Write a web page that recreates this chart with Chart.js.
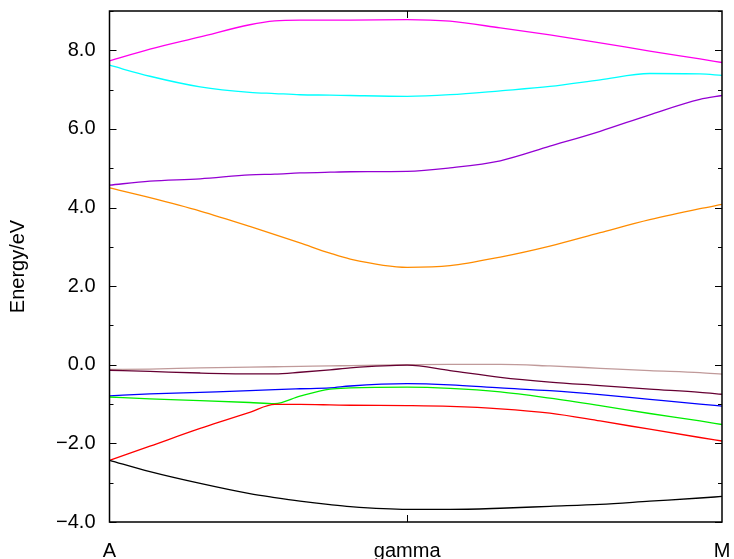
<!DOCTYPE html>
<html>
<head>
<meta charset="utf-8">
<script src="https://cdn.jsdelivr.net/npm/chart.js@4"></script>
<style>
  html, body { margin: 0; padding: 0; background: #fff; }
  #wrap { width: 734px; height: 559px; }
</style>
</head>
<body>
<div id="wrap"><canvas id="bandChart" width="734" height="559"></canvas></div>
<script>
// k-path positions (A -> gamma -> M), normalised 0..1
const kPath = [0, 0.066, 0.148, 0.229, 0.270, 0.311, 0.360, 0.393, 0.486, 0.556, 0.638, 0.719, 0.801, 0.882, 0.964, 1.0];
const xTickPos = [0, 0.486, 1];
const xTickLabels = ['A', 'gamma', 'M'];
const yTickValues = [-4, -2, 0, 2, 4, 6, 8];

// band energies (eV), one value per kPath point
const band1 = [-2.43, -2.72, -3.02, -3.28, -3.38, -3.47, -3.56, -3.61, -3.68, -3.68, -3.65, -3.60, -3.55, -3.47, -3.39, -3.35];
const band2 = [-2.43, -2.07, -1.62, -1.21, -1.01, -1.01, -1.02, -1.03, -1.04, -1.06, -1.12, -1.23, -1.43, -1.64, -1.85, -1.94];
const band3 = [-0.82, -0.87, -0.91, -0.96, -0.99, -0.80, -0.62, -0.59, -0.57, -0.60, -0.69, -0.85, -1.04, -1.24, -1.43, -1.52];
const band4 = [-0.79, -0.74, -0.70, -0.66, -0.63, -0.61, -0.59, -0.54, -0.48, -0.51, -0.59, -0.66, -0.76, -0.88, -1.00, -1.05];
const band5 = [-0.14, -0.17, -0.21, -0.23, -0.23, -0.19, -0.13, -0.08, -0.01, -0.15, -0.32, -0.44, -0.53, -0.62, -0.70, -0.75];
const band6 = [-0.12, -0.11, -0.08, -0.06, -0.05, -0.04, -0.03, -0.02, 0.00, 0.01, 0.01, -0.03, -0.09, -0.15, -0.20, -0.24];
const band7 = [4.50, 4.25, 3.91, 3.52, 3.31, 3.10, 2.84, 2.69, 2.48, 2.52, 2.74, 3.02, 3.36, 3.69, 3.97, 4.08];
const band8 = [4.57, 4.67, 4.73, 4.83, 4.85, 4.88, 4.90, 4.91, 4.92, 5.01, 5.19, 5.56, 5.94, 6.36, 6.75, 6.85];
const band9 = [7.62, 7.34, 7.07, 6.93, 6.90, 6.87, 6.86, 6.85, 6.83, 6.87, 6.97, 7.08, 7.25, 7.41, 7.40, 7.36];
const band10 = [7.73, 8.03, 8.34, 8.65, 8.75, 8.77, 8.77, 8.77, 8.78, 8.74, 8.57, 8.39, 8.19, 7.98, 7.78, 7.69];

const bands = [band1, band2, band3, band4, band5, band6, band7, band8, band9, band10];
const bandColors = ['#000000', '#ff0000', '#00ee00', '#0000ff', '#660033', '#c09a9a', '#ff8c00', '#9400d3', '#00ffff', '#ff00ee'];

const FONT = 'Liberation Sans, Arial, sans-serif';

// frame + inside ticks (like gnuplot)
const frameTicks = {
  id: 'frameTicks',
  afterDraw(chart) {
    const c = chart.ctx, a = chart.chartArea;
    const xs = chart.scales.x, ys = chart.scales.y;
    c.save();
    c.strokeStyle = '#000';
    c.lineWidth = 1.5;
    c.strokeRect(a.left, a.top, a.right - a.left, a.bottom - a.top);
    c.lineWidth = 1;
    c.beginPath();
    for (let v = -4; v <= 9; v++) {
      const y = Math.round(ys.getPixelForValue(v)) + 0.5;
      const len = v % 2 === 0 ? 7 : 4;
      c.moveTo(a.left, y); c.lineTo(a.left + len, y);
      c.moveTo(a.right, y); c.lineTo(a.right - len, y);
    }
    const gx = Math.round(xs.getPixelForValue(xTickPos[1])) + 0.5;
    c.moveTo(gx, a.top); c.lineTo(gx, a.top + 7);
    c.moveTo(gx, a.bottom); c.lineTo(gx, a.bottom - 7);
    c.stroke();
    c.restore();
  }
};

new Chart(document.getElementById('bandChart'), {
  type: 'line',
  data: {
    datasets: bands.map((b, i) => ({
      label: 'band ' + (i + 1),
      data: b.map((e, j) => ({ x: kPath[j], y: e })),
      borderColor: bandColors[i],
      borderWidth: 1.3,
      pointRadius: 0,
      fill: false,
      cubicInterpolationMode: 'monotone'
    }))
  },
  options: {
    responsive: false,
    animation: false,
    layout: { padding: { top: 11, right: 12, left: 0, bottom: 0 } },
    plugins: { legend: { display: false }, tooltip: { enabled: false } },
    scales: {
      x: {
        type: 'linear',
        min: 0, max: 1,
        grid: { display: false, drawTicks: false },
        border: { display: false },
        afterBuildTicks: s => { s.ticks = xTickPos.map(v => ({ value: v })); },
        afterFit: s => { s.height = 37; s.paddingLeft = 0; s.paddingRight = 0; },
        ticks: {
          autoSkip: false,
          maxRotation: 0,
          padding: 17,
          color: '#000',
          font: { family: FONT, size: 20 },
          callback: (v, i) => xTickLabels[i]
        }
      },
      y: {
        min: -4, max: 9,
        grid: { display: false, drawTicks: false },
        border: { display: false },
        afterBuildTicks: s => { s.ticks = yTickValues.map(v => ({ value: v })); },
        afterFit: s => { s.width = 109.5; s.paddingTop = 0; s.paddingBottom = 0; },
        title: {
          display: true,
          text: 'Energy/eV',
          color: '#000',
          font: { family: FONT, size: 20 },
          padding: { top: 6, bottom: 0 }
        },
        ticks: {
          padding: 14,
          color: '#000',
          font: { family: FONT, size: 20 },
          callback: v => (v < 0 ? '\u2212' : '') + Math.abs(v).toFixed(1)
        }
      }
    }
  },
  plugins: [frameTicks]
});
</script>
</body>
</html>
